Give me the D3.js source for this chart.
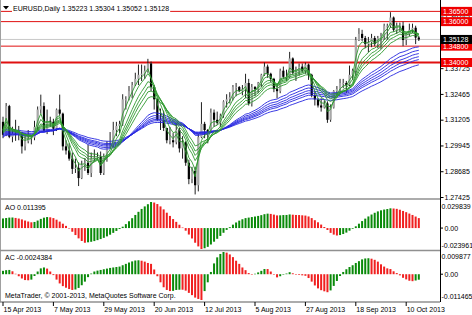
<!DOCTYPE html>
<html lang="en">
<head>
<meta charset="utf-8">
<script src="https://cdn.jsdelivr.net/npm/d3@7"></script>
<title>EURUSD,Daily</title>
<style>
body { margin: 0; background: #fff; }
text { font-family: "Liberation Sans", Arial, sans-serif; font-size: 7px; }
</style>
</head>
<body>
<div id="chart"></div>
<script>
// daily bars 15 Apr 2013 .. 16 Oct 2013
var open = [1.3110,1.3047,1.3187,1.3037,1.3052, 1.3050,1.3057,1.2990,1.3015,1.3028, 1.3033,1.3085,1.3170,1.3187,1.3067,
  1.3115,1.3110,1.3077,1.3170,1.3150, 1.2990,1.2970,1.2930,1.2880,1.2885, 1.2835,1.2900,1.2910,1.2860,1.2930,
  1.2935,1.2940,1.2860,1.2940,1.2990, 1.2995,1.3070,1.3090,1.3100,1.3220, 1.3220,1.3260,1.3290,1.3320,1.3340,
  1.3345,1.3360,1.3395,1.3280,1.3220, 1.3120,1.3120,1.3080,1.3020,1.3020, 1.3010,1.3070,1.2980,1.3010,1.2910,
  1.2830,1.2870,1.2800,1.3035,1.3100, 1.3070,1.3060,1.3155,1.3120,1.3105, 1.3140,1.3210,1.3220,1.3230,1.3280,
  1.3280,1.3260,1.3270,1.3300,1.3200, 1.3280,1.3270,1.3300,1.3340,1.3380, 1.3345,1.3320,1.3270,1.3260,1.3360,
  1.3330,1.3330,1.3420,1.3350,1.3360, 1.3380,1.3360,1.3390,1.3340,1.3240, 1.3220,1.3190,1.3180,1.3200,1.3120,
  1.3180,1.3260,1.3270,1.3300,1.3300, 1.3290,1.3340,1.3360,1.3510,1.3540, 1.3520,1.3490,1.3500,1.3520,1.3490,
  1.3520,1.3530,1.3580,1.3580,1.3620, 1.3560,1.3580,1.3580,1.3510,1.3540, 1.3560,1.3570,1.35223];
var high = [1.3135,1.3202,1.3193,1.3086,1.3120, 1.3090,1.3062,1.3055,1.3070,1.3044, 1.3115,1.3185,1.3243,1.3205,1.3170,
  1.3135,1.3125,1.3175,1.3243,1.3155, 1.3020,1.3005,1.2960,1.2930,1.2912, 1.2920,1.2933,1.2998,1.2960,1.2975,
  1.2960,1.2965,1.2955,1.3015,1.3060, 1.3110,1.3110,1.3115,1.3245,1.3235, 1.3285,1.3305,1.3350,1.3390,1.3390,
  1.3385,1.3418,1.3405,1.3290,1.3225, 1.3175,1.3165,1.3080,1.3085,1.3055, 1.3105,1.3080,1.3040,1.3015,1.2925,
  1.2890,1.2890,1.3050,1.3206,1.3110, 1.3075,1.3175,1.3170,1.3160,1.3150, 1.3215,1.3245,1.3255,1.3290,1.3300,
  1.3285,1.3290,1.3345,1.3320,1.3295, 1.3285,1.3305,1.3345,1.3400,1.3390, 1.3350,1.3325,1.3295,1.3370,1.3380,
  1.3365,1.3452,1.3425,1.3380,1.3395, 1.3395,1.3400,1.3395,1.3345,1.3260, 1.3225,1.3225,1.3215,1.3210,1.3195,
  1.3265,1.3285,1.3320,1.3320,1.3310, 1.3385,1.3370,1.3525,1.3568,1.3560, 1.3530,1.3525,1.3540,1.3530,1.3530,
  1.3545,1.3590,1.3590,1.3646,1.3625, 1.3595,1.3595,1.3600,1.3545,1.3590, 1.3590,1.3580,1.35304];
var low = [1.3030,1.3040,1.3030,1.3010,1.3017, 1.3020,1.2955,1.2970,1.3005,1.3000, 1.3020,1.3070,1.3150,1.3060,1.3050,
  1.3085,1.3045,1.3065,1.3140,1.2970, 1.2950,1.2920,1.2855,1.2860,1.2796, 1.2830,1.2870,1.2850,1.2840,1.2915,
  1.2925,1.2850,1.2850,1.2915,1.2980, 1.2985,1.3040,1.3055,1.3090,1.3170, 1.3215,1.3225,1.3285,1.3290,1.3310,
  1.3320,1.3350,1.3260,1.3170,1.3115, 1.3070,1.3065,1.3005,1.3000,1.2985, 1.3000,1.2960,1.2930,1.2895,1.2805,
  1.2810,1.2755,1.2770,1.3030,1.3030, 1.3005,1.3055,1.3085,1.3095,1.3085, 1.3130,1.3180,1.3200,1.3215,1.3235,
  1.3255,1.3240,1.3225,1.3190,1.3185, 1.3235,1.3250,1.3280,1.3335,1.3325, 1.3305,1.3255,1.3225,1.3250,1.3320,
  1.3310,1.3325,1.3340,1.3310,1.3335, 1.3350,1.3345,1.3315,1.3230,1.3190, 1.3180,1.3160,1.3175,1.3105,1.3110,
  1.3175,1.3240,1.3250,1.3275,1.3250, 1.3285,1.3315,1.3335,1.3505,1.3505, 1.3470,1.3450,1.3475,1.3480,1.3470,
  1.3465,1.3510,1.3510,1.3570,1.3550, 1.3540,1.3550,1.3480,1.3485,1.3530, 1.3545,1.3490,1.35052];
var close = [1.3047,1.3187,1.3037,1.3052,1.3050, 1.3057,1.2990,1.3015,1.3028,1.3033, 1.3085,1.3170,1.3187,1.3067,1.3115,
  1.3110,1.3077,1.3170,1.3150,1.2990, 1.2970,1.2930,1.2880,1.2885,1.2835, 1.2900,1.2910,1.2860,1.2930,1.2935,
  1.2940,1.2860,1.2940,1.2990,1.2995, 1.3070,1.3090,1.3100,1.3220,1.3220, 1.3260,1.3290,1.3320,1.3340,1.3345,
  1.3360,1.3395,1.3280,1.3220,1.3120, 1.3120,1.3080,1.3020,1.3020,1.3010, 1.3070,1.2980,1.3010,1.2910,1.2830,
  1.2870,1.2800,1.3035,1.3100,1.3070, 1.3060,1.3155,1.3120,1.3105,1.3140, 1.3210,1.3220,1.3230,1.3280,1.3280,
  1.3260,1.3270,1.3300,1.3200,1.3280, 1.3270,1.3300,1.3340,1.3380,1.3345, 1.3320,1.3270,1.3260,1.3360,1.3330,
  1.3330,1.3420,1.3350,1.3360,1.3380, 1.3360,1.3390,1.3340,1.3240,1.3220, 1.3190,1.3180,1.3200,1.3120,1.3180,
  1.3260,1.3270,1.3300,1.3300,1.3290, 1.3340,1.3360,1.3510,1.3540,1.3520, 1.3490,1.3500,1.3520,1.3490,1.3520,
  1.3530,1.3580,1.3580,1.3620,1.3560, 1.3580,1.3580,1.3510,1.3540,1.3560, 1.3570,1.3522,1.35128];

// Awesome oscillator and accelerator, one value per bar
var ao = [0.0110,0.0115,0.0120,0.0121,0.0116, 0.0109,0.0099,0.0086,0.0075,0.0066, 0.0070,0.0086,0.0105,0.0119,0.0126,
  0.0123,0.0114,0.0096,0.0074,0.0050, 0.0025,-0.0005,-0.0042,-0.0080,-0.0118, -0.0148,-0.0168,-0.0163,-0.0157,-0.0149,
  -0.0138,-0.0126,-0.0112,-0.0095,-0.0076, -0.0055,-0.0033,-0.0011,0.0016,0.0045, 0.0078,0.0113,0.0150,0.0186,0.0219,
  0.0248,0.0273,0.029839,0.0292,0.0275, 0.0248,0.0214,0.0176,0.0139,0.0103, 0.0071,0.0038,0.0006,-0.0030,-0.0074,
  -0.0119,-0.0168,-0.0210,-0.023961,-0.0231, -0.0215,-0.0188,-0.0156,-0.0123,-0.0090, -0.0054,-0.0021,0.0010,0.0039,0.0064,
  0.0085,0.0101,0.0114,0.0120,0.0126, 0.0132,0.0139,0.0148,0.0159,0.0165, 0.0162,0.0154,0.0145,0.0146,0.0149,
  0.0150,0.0156,0.0153,0.0150,0.0149, 0.0146,0.0143,0.0133,0.0114,0.0090, 0.0066,0.0040,0.0012,-0.0022,-0.0055,
  -0.0075,-0.0085,-0.0080,-0.0068,-0.0052, -0.0030,-0.0008,0.0020,0.0050,0.0080, 0.0108,0.0133,0.0155,0.0175,0.0191,
  0.0203,0.0212,0.0218,0.0226,0.0224, 0.0220,0.0210,0.0196,0.0182,0.0166, 0.0150,0.0132,0.011395];
var ac = [0.0015,0.0018,0.0019,0.0013,0.0002, -0.0009,-0.0019,-0.0026,-0.0027,-0.0024, -0.0008,0.0012,0.0026,0.0030,0.0025,
  0.0012,-0.0004,-0.0024,-0.0041,-0.0053, -0.0060,-0.0066,-0.0070,-0.0068,-0.0061, -0.0049,-0.0033,-0.0013,0.0003,0.0012,
  0.0016,0.0019,0.0022,0.0025,0.0028, 0.0030,0.0032,0.0034,0.0040,0.0046, 0.0052,0.0057,0.0061,0.0062,0.0060,
  0.0056,0.0050,0.0046,0.0021,-0.0009, -0.0036,-0.0058,-0.0070,-0.0075,-0.0074, -0.0070,-0.0069,-0.0069,-0.0073,-0.0083,
  -0.0093,-0.0104,-0.0110,-0.011465,-0.0075, -0.0036,0.0010,0.0048,0.0075,0.0090, 0.009877,0.0096,0.0088,0.0076,0.0060,
  0.0046,0.0030,0.0018,0.0005,0.0000, 0.0002,0.0008,0.0015,0.0023,0.0023, 0.0012,-0.0002,-0.0014,-0.0009,-0.0001,
  0.0003,0.0009,0.0004,0.0000,-0.0003, -0.0005,-0.0007,-0.0017,-0.0033,-0.0050, -0.0063,-0.0071,-0.0076,-0.0080,-0.0072,
  -0.0052,-0.0030,-0.0008,0.0010,0.0022, 0.0032,0.0040,0.0050,0.0058,0.0066, 0.0070,0.0071,0.0069,0.0064,0.0056,
  0.0044,0.0034,0.0026,0.0023,0.0013, 0.0005,-0.0005,-0.0016,-0.0023,-0.0029, -0.0031,-0.0028,-0.0024384];

// GMMA seeds read at the left edge
var shortPeriods = [3, 5, 8, 10, 12, 15];
var shortSeeds = [1.3090, 1.3085, 1.3075, 1.3068, 1.3062, 1.3055];
var longPeriods = [30, 35, 40, 45, 50, 60];
var longSeeds = [1.3035, 1.3040, 1.3046, 1.3052, 1.3058, 1.3068];

var priceTicks = [1.27425, 1.28685, 1.29945, 1.31205, 1.32465, 1.33725, 1.34985, 1.36245];
var hLines = [1.365, 1.36, 1.348, 1.34];
var bid = 1.35128;
var aoRange = [-0.023961, 0.029839];
var acRange = [-0.011465, 0.009877];
var dateBars = [0, 16, 32, 48, 64, 80, 96, 112, 128];
var dateLabels = ["15 Apr 2013", "7 May 2013", "29 May 2013", "20 Jun 2013", "12 Jul 2013",
  "5 Aug 2013", "27 Aug 2013", "18 Sep 2013", "10 Oct 2013"];

var width = 472, height = 315, plotR = 440;

var svg = d3.select("#chart").append("svg")
  .attr("width", width).attr("height", height);
svg.append("rect").attr("width", width).attr("height", height).attr("fill", "#fff");

var x = d3.scaleLinear().domain([0, close.length - 1]).range([3, 418.8]);
var y = d3.scaleLinear().domain([1.27425, 1.36245]).range([197, 16.6]);
var yAO = d3.scaleLinear().domain(aoRange).range([249, 202]);
var yAC = d3.scaleLinear().domain(acRange).range([300, 252]);

svg.append("clipPath").attr("id", "mainclip")
  .append("rect").attr("x", 0).attr("y", 0).attr("width", plotR).attr("height", 198);

var main = svg.append("g").attr("clip-path", "url(#mainclip)");

// horizontal levels
main.append("line").attr("x1", 0).attr("x2", plotR)
  .attr("y1", y(bid)).attr("y2", y(bid))
  .attr("stroke", "#c8c8c8").attr("stroke-width", 1);
main.selectAll(".lvl").data(hLines).enter().append("line")
  .attr("class", "lvl")
  .attr("x1", 0).attr("x2", plotR)
  .attr("y1", function(d) { return y(d); }).attr("y2", function(d) { return y(d); })
  .attr("stroke", "#e01010")
  .attr("stroke-width", function(d) { return d == 1.34 ? 2 : 1; });

// candles
var bars = main.append("g").selectAll("g").data(close).enter().append("g");
bars.append("line")
  .attr("x1", function(d, i) { return x(i); }).attr("x2", function(d, i) { return x(i); })
  .attr("y1", function(d, i) { return y(high[i]); }).attr("y2", function(d, i) { return y(low[i]); })
  .attr("stroke", "#202020").attr("stroke-width", 1);
bars.append("rect")
  .attr("x", function(d, i) { return x(i) - 1.1; })
  .attr("width", 2.2)
  .attr("y", function(d, i) { return y(Math.max(open[i], d)); })
  .attr("height", function(d, i) { return Math.max(1, Math.abs(y(open[i]) - y(d))); })
  .attr("fill", function(d, i) { return d >= open[i] ? "#a8a8a8" : "#000"; });

// guppy averages
function ema(seed, period) {
  var k = 2 / (period + 1), v = seed, out = [];
  close.forEach(function(c) { v = v + k * (c - v); out.push(v); });
  return out;
}
var line = d3.line()
  .x(function(d, i) { return x(i); })
  .y(function(d) { return y(d); });

longPeriods.forEach(function(p, j) {
  main.append("path").datum(ema(longSeeds[j], p))
    .attr("d", line).attr("fill", "none")
    .attr("stroke", "#2626e0").attr("stroke-width", 0.9);
});
shortPeriods.forEach(function(p, j) {
  main.append("path").datum(ema(shortSeeds[j], p))
    .attr("d", line).attr("fill", "none")
    .attr("stroke", "#2f9a2f").attr("stroke-width", 0.9);
});

// title
var title = svg.append("text").attr("x", 13).attr("y", 11)
  .text("EURUSD,Daily 1.35223 1.35304 1.35052 1.35128");
var tb = title.node().getBBox();
svg.insert("rect", "text").attr("x", tb.x - 1).attr("y", tb.y).attr("width", tb.width + 2)
  .attr("height", tb.height).attr("fill", "#fff");
svg.append("path").attr("d", "M3,6 L9,6 L6,9.5 Z").attr("fill", "#000");

// oscillator histograms
function histo(vals, ys, g) {
  g.selectAll("rect").data(vals).enter().append("rect")
    .attr("x", function(d, i) { return x(i) - 1; })
    .attr("width", 2)
    .attr("y", function(d) { return Math.min(ys(d), ys(0)); })
    .attr("height", function(d) { return Math.max(0.5, Math.abs(ys(d) - ys(0))); })
    .attr("fill", function(d, i) { return (i == 0 || d > vals[i - 1]) ? "#0a8a0a" : "#f02020"; });
}
histo(ao, yAO, svg.append("g"));
histo(ac, yAC, svg.append("g"));

svg.append("text").attr("x", 5).attr("y", 209.5).text("AO 0.011395");
svg.append("text").attr("x", 5).attr("y", 259.5).text("AC -0.0024384");
svg.append("text").attr("x", 5).attr("y", 298).text("MetaTrader, \u00a9 2001-2013, MetaQuotes Software Corp.");

// panel frames
svg.append("line").attr("x1", 0.5).attr("x2", 0.5).attr("y1", 0).attr("y2", 302)
  .attr("stroke", "#a0a0a0");
[199, 250.5, 302].forEach(function(v) {
  svg.append("line").attr("x1", 0).attr("x2", plotR).attr("y1", v).attr("y2", v)
    .attr("stroke", "#909090").attr("stroke-width", 1.5);
});
svg.append("line").attr("x1", plotR + 0.5).attr("x2", plotR + 0.5).attr("y1", 0).attr("y2", 302)
  .attr("stroke", "#000");

// right price axis
var yAxis = d3.axisRight(y).tickValues(priceTicks).tickSize(3).tickPadding(1)
  .tickFormat(d3.format(".5f"));
var ga = svg.append("g").attr("transform", "translate(" + (plotR + 0.5) + ",0)").call(yAxis);
ga.select(".domain").remove();
ga.selectAll("text").style("font-size", "7px").attr("fill", "#000");

// level boxes
var boxes = hLines.concat([bid]);
boxes.forEach(function(v) {
  var c = v == bid ? "#000" : "#f00000";
  svg.append("rect").attr("x", plotR + 1).attr("y", y(v) - 4.5).attr("width", 31).attr("height", 9)
    .attr("fill", c);
  svg.append("text").attr("x", plotR + 3).attr("y", y(v) + 2.5).attr("fill", "#fff")
    .text(d3.format(".5f")(v));
});

// oscillator scales
function oscAxis(rng, ys, labels) {
  var vals = [rng[1], 0, rng[0]];
  var dy = [6.5, 2.5, -1.5];
  vals.forEach(function(v, k) {
    if (v == 0) {
      svg.append("line").attr("x1", plotR).attr("x2", plotR + 3).attr("y1", ys(0)).attr("y2", ys(0))
        .attr("stroke", "#000");
    }
    svg.append("text").attr("x", v == 0 ? plotR + 4.5 : plotR + 1.5).attr("y", ys(v) + dy[k]).text(labels[k]);
  });
}
oscAxis(aoRange, yAO, ["0.029839", "0.00", "-0.023961"]);
oscAxis(acRange, yAC, ["0.009877", "0.00", "-0.011465"]);

// time axis
dateBars.forEach(function(b, k) {
  svg.append("line").attr("x1", x(b)).attr("x2", x(b)).attr("y1", 302).attr("y2", 306)
    .attr("stroke", "#000");
  svg.append("text").attr("x", x(b) + 0.5).attr("y", 312).text(dateLabels[k]);
});
</script>
</body>
</html>
